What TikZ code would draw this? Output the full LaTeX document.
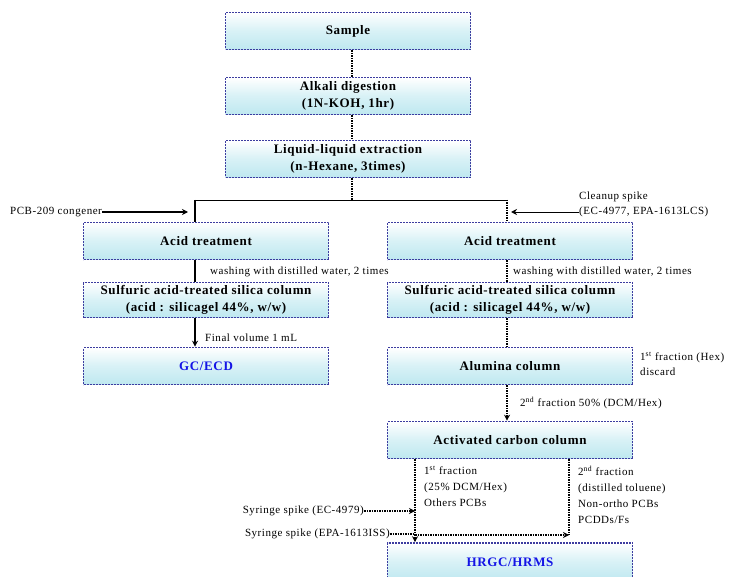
\documentclass[tikz,border=0pt]{standalone}
\usepackage{fontspec}
\setmainfont{Liberation Serif}
\usetikzlibrary{arrows.meta}
\definecolor{boxborder}{RGB}{60,60,160}
\definecolor{boxfill}{RGB}{190,232,240}
\definecolor{hiblue}{RGB}{20,20,230}
\newfontfamily\lblfont[LetterSpace=5]{Liberation Serif}
\newfontfamily\boxfont[LetterSpace=5]{Liberation Serif}
\tikzset{
  proc/.style={draw=boxborder, line width=1.6pt, dash pattern=on 2pt off 1pt,
    top color=white, bottom color=boxfill, middle color=boxfill!60,
    minimum width=245pt, minimum height=37pt, align=center,
    font=\boxfont\fontsize{13}{17}\selectfont\bfseries, inner sep=1pt},
  lbl/.style={font=\lblfont\fontsize{11}{15}\selectfont, inner sep=0pt, align=left},
  dotline/.style={line width=1.5pt, densely dotted},
  solidline/.style={line width=1.5pt},
  tip/.style={-{Stealth[length=6pt,width=6pt]}}
}
\begin{document}
\begin{tikzpicture}[x=1pt,y=-1pt]
\useasboundingbox (0,0) rectangle (730,577);
% boxes
\node[proc] (sample) at (348,31) {Sample};
\node[proc] (alkali) at (348,96) {Alkali digestion\\(1N-KOH, 1hr)};
\node[proc] (liquid) at (348,159) {Liquid-liquid extraction\\(n-Hexane, 3times)};
\node[proc] (acidl) at (206,241) {Acid treatment};
\node[proc] (acidr) at (510,241) {Acid treatment};
\node[proc, minimum height=35pt] (sulfl) at (206,300) {Sulfuric acid-treated silica column\\(acid : silicagel 44\%, w/w)};
\node[proc, minimum height=35pt] (sulfr) at (510,300) {Sulfuric acid-treated silica column\\(acid : silicagel 44\%, w/w)};
\node[proc, text=hiblue] (gc) at (206,366) {GC/ECD};
\node[proc] (alumina) at (510,366) {Alumina column};
\node[proc] (carbon) at (510,440) {Activated carbon column};
\node[proc, text=hiblue, minimum height=38pt] (hrgc) at (510,562) {HRGC/HRMS};
% junction coordinates
\coordinate (top) at (352,200);
\coordinate (jl) at (195,200);
\coordinate (jr) at (507,200);
\coordinate (cl) at (415,535);
\coordinate (cr) at (569,535);
% top chain
\draw[dotline] (sample.south -| top) -- (alkali.north -| top);
\draw[dotline] (alkali.south -| top) -- (liquid.north -| top);
\draw[dotline] (liquid.south -| top) -- (top);
\draw[line width=0.8pt] (jl) -- (jr);
\draw[solidline] (jl) -- (acidl.north -| jl);
\draw[dotline] (jr) -- (acidr.north -| jr);
% spikes at top
\node[lbl, anchor=west] (pcb) at (10,212) {PCB-209 congener};
\coordinate (pcbend) at (188,212);
\draw[line width=1.8pt, tip] (pcb.east) -- (pcbend);
\node[lbl, anchor=west] (clean) at (579,204) {Cleanup spike\\(EC-4977, EPA-1613LCS)};
\coordinate (cleanend) at (511,212);
\draw[line width=0.8pt, tip] (clean.west |- cleanend) -- (cleanend);
% left branch
\draw[solidline] (acidl.south -| jl) -- (sulfl.north -| jl);
\draw[solidline, tip] (sulfl.south -| jl) -- (gc.north -| jl);
\node[lbl, anchor=west] (wl) at (210,272) {washing with distilled water, 2 times};
\node[lbl, anchor=west] (fv) at (205,338) {Final volume 1 mL};
% right branch
\draw[dotline] (acidr.south -| jr) -- (sulfr.north -| jr);
\draw[dotline] (sulfr.south -| jr) -- (alumina.north -| jr);
\draw[dotline, tip] (alumina.south -| jr) -- (carbon.north -| jr);
\node[lbl, anchor=west] (wr) at (513,272) {washing with distilled water, 2 times};
\node[lbl, anchor=west] (f1) at (640,364) {1\textsuperscript{st} fraction (Hex)\\discard};
\node[lbl, anchor=west] (f2) at (520,403) {2\textsuperscript{nd} fraction 50\% (DCM/Hex)};
% bottom bracket
\draw[dotline, tip] (carbon.south -| cl) -- (hrgc.north -| cl);
\draw[dotline] (carbon.south -| cr) -- (cr);
\draw[dotline, tip] (cl) -- (cr);
\node[lbl, anchor=north west, font=\lblfont\fontsize{11}{16}\selectfont] (fr1) at (424,466) {1\textsuperscript{st} fraction\\(25\% DCM/Hex)\\Others PCBs};
\node[lbl, anchor=north west, font=\lblfont\fontsize{11}{16}\selectfont] (fr2) at (578,466) {2\textsuperscript{nd} fraction\\(distilled toluene)\\Non-ortho PCBs\\PCDDs/Fs};
\node[lbl, anchor=east] (syr1) at (364,511) {Syringe spike (EC-4979)};
\node[lbl, anchor=east] (syr2) at (390,534) {Syringe spike (EPA-1613ISS)};
\draw[dotline, tip] (syr1.east) -- (syr1.east -| cl);
\draw[dotline] (syr2.east) -- (syr2.east -| cl);
\end{tikzpicture}
\end{document}
